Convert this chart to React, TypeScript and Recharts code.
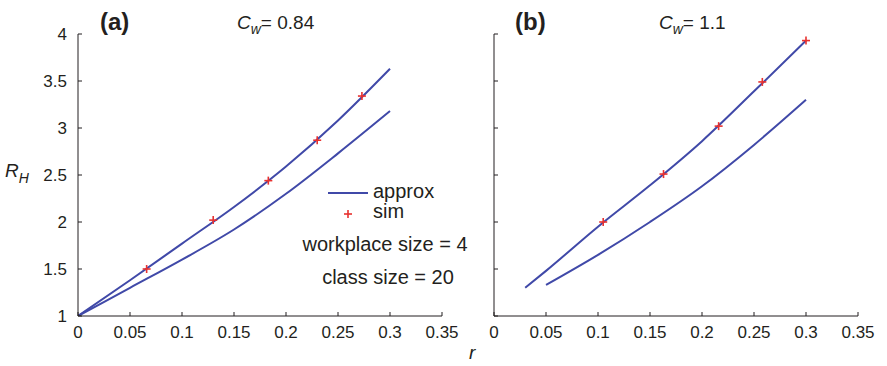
import React from 'react';
import { ComposedChart, Line, Scatter, XAxis, YAxis } from 'recharts';

// panel (a): C_w = 0.84
const rGridA = [0, 0.05, 0.1, 0.15, 0.2, 0.25, 0.3];
const approxUpperA = [1, 1.38, 1.77, 2.16, 2.59, 3.08, 3.63];
const approxLowerA = [1, 1.3, 1.6, 1.92, 2.3, 2.73, 3.18];
const simRA = [0.066, 0.13, 0.183, 0.23, 0.273];
const simA = [1.5, 2.02, 2.44, 2.87, 3.34];

// panel (b): C_w = 1.1
const rUpperB = [0.03, 0.05, 0.1, 0.15, 0.2, 0.25, 0.3];
const approxUpperB = [1.3, 1.48, 1.95, 2.39, 2.86, 3.39, 3.93];
const rLowerB = [0.05, 0.1, 0.15, 0.2, 0.25, 0.3];
const approxLowerB = [1.33, 1.65, 2.0, 2.38, 2.82, 3.3];
const simRB = [0.105, 0.163, 0.216, 0.258, 0.3];
const simB = [2.0, 2.51, 3.02, 3.49, 3.93];

const xTicks = [0, 0.05, 0.1, 0.15, 0.2, 0.25, 0.3, 0.35];
const yTicks = [1, 1.5, 2, 2.5, 3, 3.5, 4];

const BLUE = '#4049a8';
const RED = '#e8312f';
const INK = '#231f20';
const FONT = '"Liberation Sans", Arial, Helvetica, sans-serif';

const zip = (xs: number[], ys: number[]) => xs.map((r, i) => ({ r, v: ys[i] }));

const fmtX = (v: number) => (v === 0 ? '0' : String(+v.toFixed(2)));

const Plus = (props: any) => {
  const { cx, cy } = props;
  if (cx == null || cy == null) return null;
  return (
    <g stroke={RED} strokeWidth={1.6}>
      <line x1={cx - 4} y1={cy} x2={cx + 4} y2={cy} />
      <line x1={cx} y1={cy - 4} x2={cx} y2={cy + 4} />
    </g>
  );
};

const tickStyle = { fontSize: 17, fill: INK, fontFamily: FONT };

interface PanelProps {
  upper: { r: number; v: number }[];
  lower: { r: number; v: number }[];
  sim: { r: number; v: number }[];
  width: number;
  margin: { top: number; right: number; left: number; bottom: number };
  yWidth: number;
  showYLabels: boolean;
}

const Panel: React.FC<PanelProps> = ({ upper, lower, sim, width, margin, yWidth, showYLabels }) => (
  <ComposedChart width={width} height={366} margin={margin}>
    <XAxis
      type="number"
      dataKey="r"
      domain={[0, 0.35]}
      ticks={xTicks}
      tickFormatter={fmtX}
      allowDataOverflow
      height={30}
      tickSize={-4}
      tickMargin={14}
      stroke={INK}
      tick={tickStyle}
      interval={0}
    />
    <YAxis
      type="number"
      dataKey="v"
      domain={[1, 4]}
      ticks={yTicks}
      tickFormatter={(v: number) => (showYLabels ? String(v) : '')}
      allowDataOverflow
      width={yWidth}
      tickSize={-4}
      tickMargin={15}
      stroke={INK}
      tick={tickStyle}
      interval={0}
    />
    <Line data={upper} dataKey="v" type="monotone" stroke={BLUE} strokeWidth={2} dot={false} isAnimationActive={false} />
    <Line data={lower} dataKey="v" type="monotone" stroke={BLUE} strokeWidth={2} dot={false} isAnimationActive={false} />
    <Scatter data={sim} dataKey="v" shape={Plus} isAnimationActive={false} />
  </ComposedChart>
);

export default function App() {
  return (
    <div style={{ position: 'absolute', left: 0, top: 0, width: 887, height: 366, background: '#fff', fontFamily: FONT }}>
      <div style={{ position: 'absolute', left: 0, top: 0 }}>
        <Panel
          upper={zip(rGridA, approxUpperA)}
          lower={zip(rGridA, approxLowerA)}
          sim={zip(simRA, simA)}
          width={460}
          margin={{ top: 34, right: 18, left: 38, bottom: 20 }}
          yWidth={40}
          showYLabels
        />
      </div>
      <div style={{ position: 'absolute', left: 460, top: 0 }}>
        <Panel
          upper={zip(rUpperB, approxUpperB)}
          lower={zip(rLowerB, approxLowerB)}
          sim={zip(simRB, simB)}
          width={427}
          margin={{ top: 34, right: 29, left: 0, bottom: 20 }}
          yWidth={34}
          showYLabels={false}
        />
      </div>
      <svg width={887} height={366} style={{ position: 'absolute', left: 0, top: 0, pointerEvents: 'none' }}>
        <g fill={INK} fontFamily={FONT}>
          <text x={100} y={30} fontSize={24} fontWeight="bold">(a)</text>
          <text x={237} y={29} fontSize={19}>
            <tspan fontStyle="italic">C</tspan>
            <tspan fontStyle="italic" fontSize={14} dy={5}>w</tspan>
            <tspan dy={-5}>= 0.84</tspan>
          </text>
          <text x={515} y={30} fontSize={24} fontWeight="bold">(b)</text>
          <text x={659} y={29} fontSize={19}>
            <tspan fontStyle="italic">C</tspan>
            <tspan fontStyle="italic" fontSize={14} dy={5}>w</tspan>
            <tspan dy={-5}>= 1.1</tspan>
          </text>
          <text x={5} y={177} fontSize={19}>
            <tspan fontStyle="italic">R</tspan>
            <tspan fontStyle="italic" fontSize={14} dy={6}>H</tspan>
          </text>
          <text x={469} y={359} fontSize={19} fontStyle="italic">r</text>

          <line x1={328} y1={193} x2={368} y2={193} stroke={BLUE} strokeWidth={2} />
          <text x={373} y={198} fontSize={20}>approx</text>
          <g stroke={RED} strokeWidth={1.6}>
            <line x1={344} y1={214} x2={352} y2={214} />
            <line x1={348} y1={210} x2={348} y2={218} />
          </g>
          <text x={373} y={218} fontSize={20}>sim</text>
          <text x={385} y={251} fontSize={20} textAnchor="middle">workplace size = 4</text>
          <text x={388} y={284} fontSize={20} textAnchor="middle">class size = 20</text>
        </g>
      </svg>
    </div>
  );
}
